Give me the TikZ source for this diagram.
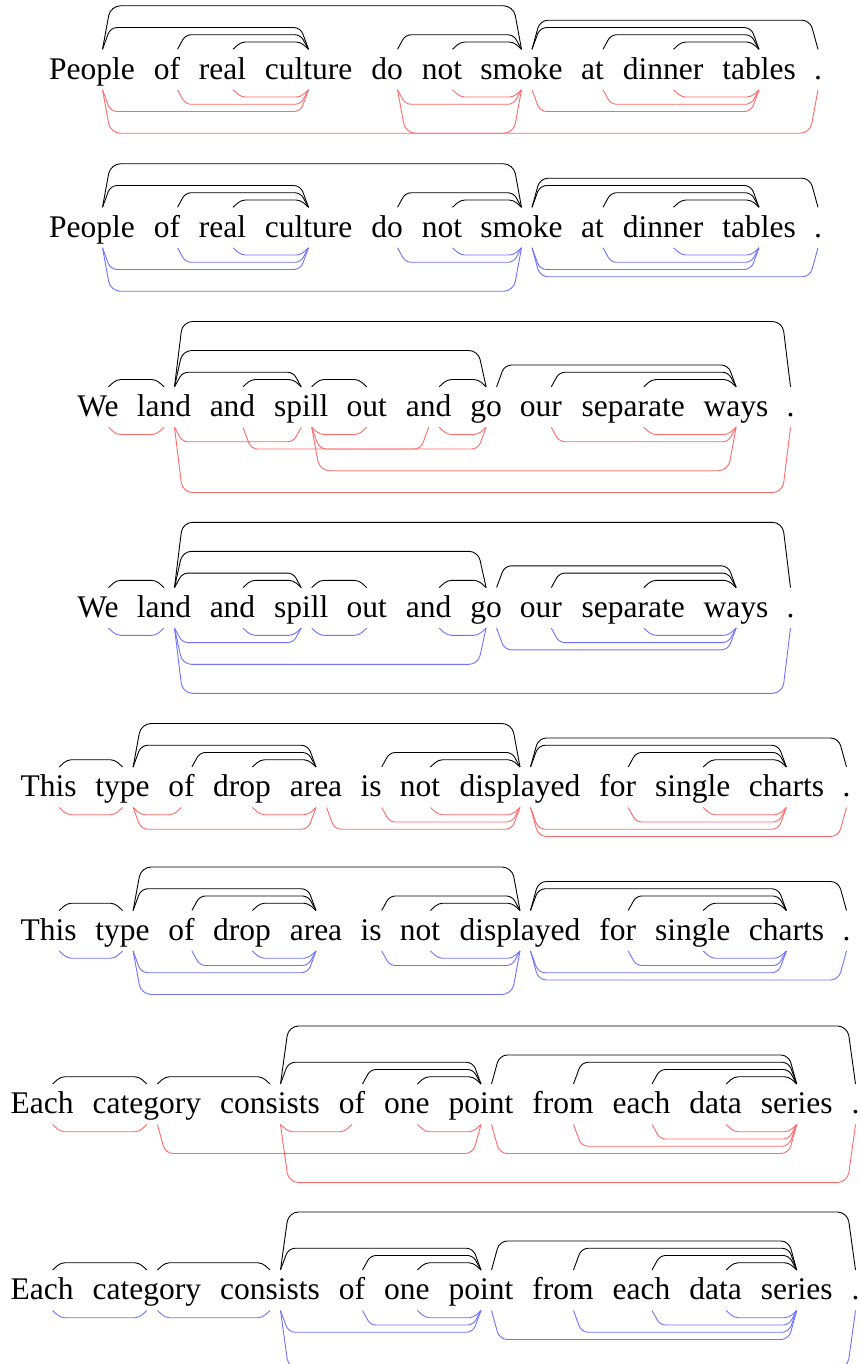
\documentclass[tikz,border=0pt]{standalone}
\usepackage{fontspec}
\setmainfont{Liberation Serif}
\usetikzlibrary{calc}
\definecolor{predred}{RGB}{255,105,105}
\definecolor{predblue}{RGB}{112,112,255}
\tikzset{
  word/.style={anchor=base, inner sep=0pt, font=\fontsize{31.5}{36}\selectfont},
  goldline/.style={draw=black, line width=0.9pt},
  redline/.style={draw=predred, line width=0.9pt},
  blueline/.style={draw=predblue, line width=0.9pt},
}
% one sentence: row id, baseline height, list of word/centre-x
\newcommand\sentence[3]{%
  \foreach \w/\x [count=\i from 0] in {#3} {\node[word] (r#1w\i) at (\x,#2) {\w};}}
% arc above the words: row, left word index, right word index
\newcommand\arcabove[3]{%
  \pgfmathsetmacro\dpH{7.25*(#3-#2)}%
  \pgfmathsetmacro\dpR{min(10,3+1.2*(#3-#2))}%
  \draw[goldline, rounded corners=\dpR pt] let \p1=(r#1w#2.base), \p2=(r#1w#3.base) in
    (\x1+10.5pt,\y1+30pt) -- (\x1+18.5pt,\y1+30pt+\dpH pt)
    -- (\x2-8pt,\y1+30pt+\dpH pt) -- (\x2,\y1+30pt);}
% arc below the words: style, row, left word index, right word index
\newcommand\arcbelow[4]{%
  \pgfmathsetmacro\dpH{7.25*(#4-#3)}%
  \pgfmathsetmacro\dpR{min(10,3+1.2*(#4-#3))}%
  \draw[#1, rounded corners=\dpR pt] let \p1=(r#2w#3.base), \p2=(r#2w#4.base) in
    (\x1+10.5pt,\y1-10.5pt) -- (\x1+18.5pt,\y1-10.5pt-\dpH pt)
    -- (\x2-8pt,\y1-10.5pt-\dpH pt) -- (\x2,\y1-10.5pt);}
\begin{document}
\begin{tikzpicture}[x=1pt,y=1pt]
\useasboundingbox (0,0) rectangle (859,1364);

% sentence 1 (gold above, predicted below in red)
\sentence{1}{1284.7}{People/92, of/167, real/222.5, culture/308.5, do/387, not/442, smoke/521.5, at/592.5, dinner/663, tables/759, ./818}
\foreach \a/\b in {0/3,1/3,2/3,0/6,4/6,5/6,6/10,6/9,7/9,8/9} {\arcabove{1}{\a}{\b}}
\foreach \a/\b in {0/3,1/3,2/3,0/6,4/6,5/6,4/10,6/9,7/9,8/9} {\arcbelow{redline}{1}{\a}{\b}}

% sentence 1 (gold above, predicted below in blue)
\sentence{2}{1126.7}{People/92, of/167, real/222.5, culture/308.5, do/387, not/442, smoke/521.5, at/592.5, dinner/663, tables/759, ./818}
\foreach \a/\b in {0/3,1/3,2/3,0/6,4/6,5/6,6/10,6/9,7/9,8/9} {\arcabove{2}{\a}{\b}}
\foreach \a/\b in {0/3,1/3,2/3,0/6,4/6,5/6,6/10,6/9,7/9,8/9} {\arcbelow{blueline}{2}{\a}{\b}}

% sentence 2
\sentence{3}{947.2}{We/98, land/164, and/232.5, spill/301.2, out/366.7, and/428.7, go/486.1, our/540.8, separate/633.3, ways/736.1, ./790.5}
\foreach \a/\b in {0/1,1/3,1/6,1/10,2/3,3/4,5/6,6/9,7/9,8/9} {\arcabove{3}{\a}{\b}}
\foreach \a/\b in {0/1,1/3,1/10,2/5,3/4,3/6,3/9,5/6,7/9,8/9} {\arcbelow{redline}{3}{\a}{\b}}

\sentence{4}{746.4}{We/98, land/164, and/232.5, spill/301.2, out/366.7, and/428.7, go/486.1, our/540.8, separate/633.3, ways/736.1, ./790.5}
\foreach \a/\b in {0/1,1/3,1/6,1/10,2/3,3/4,5/6,6/9,7/9,8/9} {\arcabove{4}{\a}{\b}}
\foreach \a/\b in {0/1,1/3,1/6,1/10,2/3,3/4,5/6,6/9,7/9,8/9} {\arcbelow{blueline}{4}{\a}{\b}}

% sentence 3
\sentence{5}{567}{This/48.7, type/122.6, of/181.4, drop/241.9, area/316, is/371.2, not/419.9, displayed/520, for/617.7, single/692.7, charts/786.4, ./846.5}
\foreach \a/\b in {0/1,1/4,1/7,2/4,3/4,5/7,6/7,7/11,7/10,8/10,9/10} {\arcabove{5}{\a}{\b}}
\foreach \a/\b in {0/1,1/2,1/4,3/4,4/7,5/7,6/7,7/10,7/11,8/10,9/10} {\arcbelow{redline}{5}{\a}{\b}}

\sentence{6}{423.5}{This/48.7, type/122.6, of/181.4, drop/241.9, area/316, is/371.2, not/419.9, displayed/520, for/617.7, single/692.7, charts/786.4, ./846.5}
\foreach \a/\b in {0/1,1/4,1/7,2/4,3/4,5/7,6/7,7/11,7/10,8/10,9/10} {\arcabove{6}{\a}{\b}}
\foreach \a/\b in {0/1,1/4,1/7,2/4,3/4,5/7,6/7,7/11,7/10,8/10,9/10} {\arcbelow{blueline}{6}{\a}{\b}}

% sentence 4
\sentence{7}{250}{Each/42.1, category/146.9, consists/270, of/352, one/406.9, point/481, from/563, each/641.5, data/715.6, series/796.7, ./855.5}
\foreach \a/\b in {0/1,1/2,2/10,2/5,3/5,4/5,5/9,6/9,7/9,8/9} {\arcabove{7}{\a}{\b}}
\foreach \a/\b in {0/1,1/5,2/3,2/10,4/5,5/9,6/9,7/9,8/9} {\arcbelow{redline}{7}{\a}{\b}}

\sentence{8}{64}{Each/42.1, category/146.9, consists/270, of/352, one/406.9, point/481, from/563, each/641.5, data/715.6, series/796.7, ./855.5}
\foreach \a/\b in {0/1,1/2,2/10,2/5,3/5,4/5,5/9,6/9,7/9,8/9} {\arcabove{8}{\a}{\b}}
\foreach \a/\b in {0/1,1/2,2/10,2/5,3/5,4/5,5/9,6/9,7/9,8/9} {\arcbelow{blueline}{8}{\a}{\b}}
\end{tikzpicture}
\end{document}
